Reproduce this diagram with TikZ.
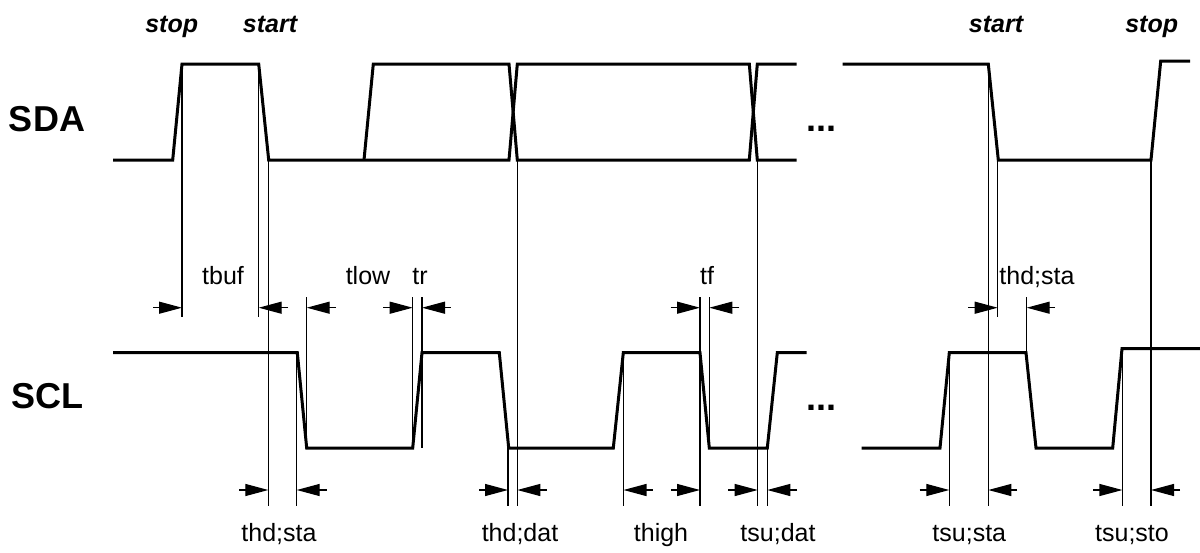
\documentclass[tikz,border=0pt]{standalone}
\usepackage{fontspec}
\setmainfont{Liberation Sans}
\usetikzlibrary{arrows.meta}
\tikzstyle{signal} = [line width=3pt, line join=miter]
\tikzstyle{marker} = [line width=1.2pt]
\tikzstyle{dim} = [line width=1.2pt, -{Triangle[length=23pt,width=12pt]}]
\tikzstyle{bus} = [anchor=base, inner sep=0pt, font=\fontsize{36}{40}\selectfont\bfseries]
\tikzstyle{event} = [anchor=base, inner sep=0pt, font=\fontsize{25}{28}\selectfont\bfseries\itshape]
\tikzstyle{tlabel} = [anchor=base, inner sep=0pt, font=\fontsize{25}{28}\selectfont]
\begin{document}
\begin{tikzpicture}[x=1pt, y=-1pt]
		\useasboundingbox (0,0) rectangle (1200,552);
		% bus names and events
		\node[bus] (SDA) at (47,131.7) {SDA};
		\node[bus] (SCL) at (47,408) {SCL};
		\node[bus] (SDAdots) at (821,131) {...};
		\node[bus] (SCLdots) at (821,410) {...};
		\node[event] (StopA) at (171.7,32) {stop};
		\node[event] (StartA) at (270,32) {start};
		\node[event] (StartB) at (996,32) {start};
		\node[event] (StopB) at (1151.7,32) {stop};
		% SDA waveform
		\draw[signal] (113,160) -- (172.7,160) -- (182,64) -- (258.7,64) -- (268.7,160) -- (509,160) -- (517.3,64) -- (749.3,64) -- (757.3,160) -- (796.7,160);
		\draw[signal] (364,160) -- (373.3,64) -- (509,64) -- (517.3,160) -- (749.3,160) -- (757.3,64) -- (796.7,64);
		\draw[signal] (842.7,64) -- (988.3,64) -- (998.3,160) -- (1151,160) -- (1160.7,61) -- (1190,61);
		% SCL waveform
		\draw[signal] (113,352.7) -- (297.3,352.7) -- (306.7,448) -- (412.7,448) -- (422,352.7) -- (499.3,352.7) -- (508.7,448) -- (613.3,448) -- (623.3,352.7) -- (700,352.7) -- (709.3,448) -- (767.3,448) -- (777.3,352.7) -- (806.7,352.7);
		\draw[signal] (861.7,448) -- (940,448) -- (949.3,352.7) -- (1026,352.7) -- (1036,448) -- (1112.7,448) -- (1122,348.7) -- (1200,348.7);
		% timing markers
		\draw[marker] (182,64) -- (182,317);
		\draw[marker] (258.7,64) -- (258.7,317);
		\draw[marker] (268.3,160) -- (268.3,506);
		\draw[marker] (296.7,352.7) -- (296.7,506);
		\draw[marker] (306.7,297) -- (306.7,448);
		\draw[marker] (412.7,297) -- (412.7,448);
		\draw[marker] (422,297) -- (422,448);
		\draw[marker] (508,448) -- (508,506);
		\draw[marker] (517.3,160) -- (517.3,506);
		\draw[marker] (623.5,352.7) -- (623.5,506);
		\draw[marker] (700,297) -- (700,506);
		\draw[marker] (709.3,297) -- (709.3,448);
		\draw[marker] (757.7,160) -- (757.7,506);
		\draw[marker] (767.3,448) -- (767.3,506);
		\draw[marker] (949.3,352.7) -- (949.3,506);
		\draw[marker] (988.3,64) -- (988.3,506);
		\draw[marker] (997.7,160) -- (997.7,317);
		\draw[marker] (1026.7,297) -- (1026.7,352.7);
		\draw[marker] (1122.4,348.7) -- (1122.4,506);
		\draw[marker] (1151,160) -- (1151,506);
		% upper timings
		\draw[dim] (153,307.7) -- (182,307.7);
		\draw[dim] (288,307.7) -- (258.7,307.7);
		\draw[dim] (336,307.7) -- (306.7,307.7);
		\draw[dim] (383,307.7) -- (412.7,307.7);
		\draw[dim] (450.7,307.7) -- (422,307.7);
		\draw[dim] (670.7,307.7) -- (700,307.7);
		\draw[dim] (739.3,307.7) -- (709.3,307.7);
		\draw[dim] (968,307.7) -- (997.7,307.7);
		\draw[dim] (1055,307.7) -- (1026.7,307.7);
		\node[tlabel] (TBuf) at (223,284) {tbuf};
		\node[tlabel] (TLow) at (368,284) {tlow};
		\node[tlabel] (TR) at (420,284) {tr};
		\node[tlabel] (TF) at (707,284) {tf};
		\node[tlabel] (THdStaA) at (1037,284) {thd;sta};
		% lower timings
		\draw[dim] (239.3,490) -- (268.3,490);
		\draw[dim] (326.7,490) -- (296.7,490);
		\draw[dim] (479.3,490) -- (508,490);
		\draw[dim] (546.7,490) -- (517.3,490);
		\draw[dim] (652.8,490) -- (623.5,490);
		\draw[dim] (670.8,490) -- (700,490);
		\draw[dim] (728.2,490) -- (757.7,490);
		\draw[dim] (797,490) -- (767.3,490);
		\draw[dim] (919.6,490) -- (949.3,490);
		\draw[dim] (1017,490) -- (988.3,490);
		\draw[dim] (1093,490) -- (1122.4,490);
		\draw[dim] (1180,490) -- (1151,490);
		\node[tlabel] (THdStaB) at (279,541.7) {thd;sta};
		\node[tlabel] (THdDat) at (520,541.7) {thd;dat};
		\node[tlabel] (THigh) at (661,541.7) {thigh};
		\node[tlabel] (TSuDat) at (778,541.7) {tsu;dat};
		\node[tlabel] (TSuSta) at (969.3,541.7) {tsu;sta};
		\node[tlabel] (TSuSto) at (1132,541.7) {tsu;sto};
	\end{tikzpicture}
\end{document}
